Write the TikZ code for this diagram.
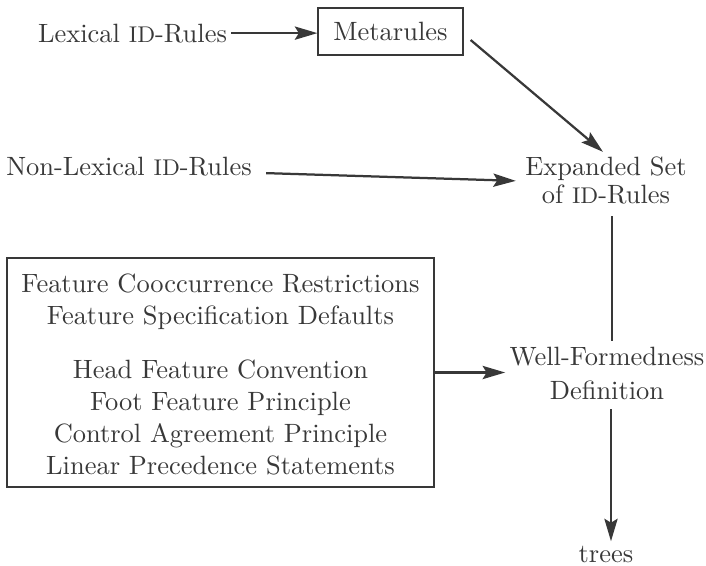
\documentclass[tikz,border=0pt]{standalone}
\usetikzlibrary{arrows.meta,calc}
\colorlet{ink}{black!78}
% reduced capitals for the abbreviation "ID"
\newcommand{\abbrID}{{\fontsize{8.6}{10}\selectfont ID}}
\tikzset{
  lbl/.style={anchor=base, inner sep=1.5pt, text=ink},
  frame/.style={draw=ink, line width=0.5pt, inner sep=0pt},
  flow/.style={draw=ink, line width=0.85pt},
  arr/.style={flow, -{Stealth[length=8.5pt,width=5pt,inset=1.5pt]}},
}
\begin{document}
\begin{tikzpicture}[x=0.378pt, y=-0.378pt]
  \useasboundingbox (0,0) rectangle (706,565);

  % top row
  \node[lbl] (lex) at (132.5,42) {Lexical \abbrID-Rules};
  \node[frame, text=ink, minimum width=54.8pt, minimum height=17.8pt] (meta) at (390.5,31.5) {Metarules};

  % second row
  \node[lbl] (nonlex) at (129,175) {Non-Lexical \abbrID-Rules};
  \node[lbl] (exp1) at (606,175) {Expanded Set};
  \node[lbl] (exp2) at (606,203) {of \abbrID-Rules};

  % principles box
  \node[frame, minimum width=161.4pt, minimum height=86.6pt] (cons) at (220.5,372.5) {};
  \node[lbl] (c1) at (220.5,292) {Feature Cooccurrence Restrictions};
  \node[lbl] (c2) at (220.5,324) {Feature Specification Defaults};
  \node[lbl] (c3) at (220.5,378) {Head Feature Convention};
  \node[lbl] (c4) at (220.5,410) {Foot Feature Principle};
  \node[lbl] (c5) at (220.5,442) {Control Agreement Principle};
  \node[lbl] (c6) at (220.5,474) {Linear Precedence Statements};

  % well-formedness and output
  \node[lbl] (wf1) at (607,365) {Well-Formedness};
  \node[lbl] (wf2) at (607,399) {Definition};
  \node[lbl] (trees) at (606,562) {trees};

  % connectors
  \draw[arr] (lex.east) -- (lex.east -| meta.west);
  \draw[arr] ($(meta.east)+(7,8.5)$) -- ($(exp1.north)+(-3,0)$);
  \draw[arr] ($(nonlex.east)+(10,7)$) -- ($(exp1.west)+(-5,12.6)$);
  \draw[flow, shorten <=3pt, shorten >=0.5pt] ($(exp2.south)+(6,0)$) -- ($(wf1.north)+(5,0)$);
  \draw[arr] (cons.east) -- (wf1.west |- cons.east);
  \draw[arr, shorten <=2pt] ($(wf2.south)+(4,0)$) -- ($(trees.north)+(5,0)$);
\end{tikzpicture}
\end{document}
